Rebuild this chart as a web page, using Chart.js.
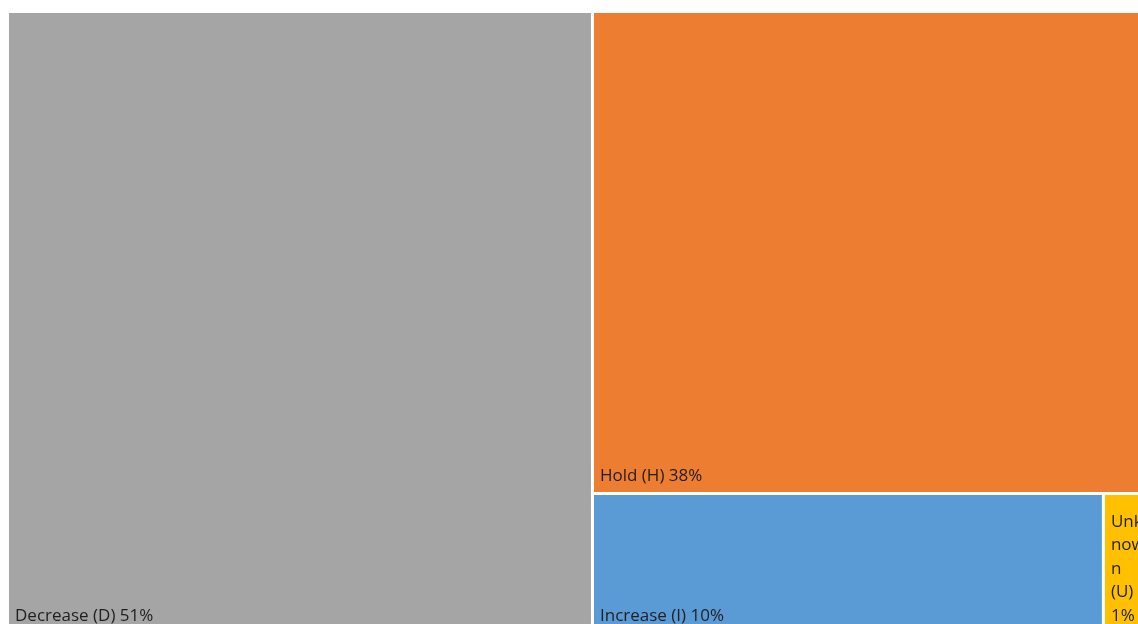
<!DOCTYPE html>
<html>
<head>
<meta charset="utf-8">
<title>Treemap</title>
<script src="https://cdn.jsdelivr.net/npm/chart.js@4.4.1/dist/chart.umd.min.js"></script>
<style>
    html, body { margin: 0; padding: 0; background: #ffffff; overflow: hidden; }
    #wrap { position: relative; width: 1160px; height: 640px; }
</style>
</head>
<body>
<div id="wrap"><canvas id="chart"></canvas></div>
<script>
const categories = ['Decrease (D)', 'Hold (H)', 'Increase (I)', 'Unknown (U)'];
const shares = [51, 38, 10, 1];
const tileColors = ['#A5A5A5', '#ED7D31', '#5B9BD5', '#FFC000'];

// squarified layout in a box measured in pixels (y grows downward)
const squarify = (values, box) => {
    const total = values.reduce((a, b) => a + b, 0);
    const k = (box.w * box.h) / total;
    const out = new Array(values.length);
    let rect = { ...box };
    let row = [];

    const worst = (items, side) => {
        const s = items.reduce((a, r) => a + r.area, 0);
        const max = Math.max(...items.map((r) => r.area));
        const min = Math.min(...items.map((r) => r.area));
        return Math.max((side * side * max) / (s * s), (s * s) / (side * side * min));
    };

    const placeRow = (items) => {
        const s = items.reduce((a, r) => a + r.area, 0);
        if (rect.w >= rect.h) {
            const w = s / rect.h;
            let y = rect.y;
            items.forEach((r) => {
                const h = r.area / w;
                out[r.i] = { x: rect.x, y, w, h };
                y += h;
            });
            rect = { x: rect.x + w, y: rect.y, w: rect.w - w, h: rect.h };
        } else {
            const h = s / rect.w;
            let x = rect.x;
            items.forEach((r) => {
                const w = r.area / h;
                out[r.i] = { x, y: rect.y, w, h };
                x += w;
            });
            rect = { x: rect.x, y: rect.y + h, w: rect.w, h: rect.h - h };
        }
    };

    values.map((v, i) => ({ i, area: v * k })).forEach((item) => {
        const side = Math.min(rect.w, rect.h);
        if (row.length && worst([...row, item], side) > worst(row, side)) {
            placeRow(row);
            row = [];
        }
        row.push(item);
    });
    if (row.length) {
        placeRow(row);
    }
    return out;
};

// word wrap; a word too long for the tile is broken by character
// and keeps its last piece on a line of its own
const wrapText = (ctx, text, maxWidth) => {
    const lines = [];
    let line = '';
    const push = (word) => {
        const next = line ? `${line} ${word}` : word;
        if (ctx.measureText(next).width <= maxWidth) {
            line = next;
            return;
        }
        if (line) {
            lines.push(line);
            line = '';
        }
        if (ctx.measureText(word).width <= maxWidth) {
            line = word;
            return;
        }
        let part = '';
        for (const ch of word) {
            if (part && ctx.measureText(part + ch).width > maxWidth) {
                lines.push(part);
                part = ch;
            } else {
                part += ch;
            }
        }
        lines.push(part);
    };
    text.split(' ').forEach(push);
    if (line) {
        lines.push(line);
    }
    return lines;
};

const noSkip = { top: false, bottom: false, left: false, right: false };

class TreemapController extends Chart.DatasetController {
    static id = 'treemap';
    static defaults = {
        dataElementType: 'bar',
        datasetElementType: false,
    };
    static overrides = {
        scales: {
            x: { type: 'linear' },
            y: { type: 'linear' },
        },
    };

    update(mode) {
        const meta = this._cachedMeta;
        this.updateElements(meta.data, 0, meta.data.length, mode);
    }

    updateElements(rects, start, count, mode) {
        const { xScale, yScale } = this._cachedMeta;
        const area = this.chart.chartArea;
        if (!area || !xScale || !yScale) {
            return;
        }
        const kx = area.width / (xScale.max - xScale.min);
        const ky = area.height / (yScale.max - yScale.min);
        const dataset = this.getDataset();
        const gap = dataset.spacing || 0;
        const tiles = squarify(dataset.data, {
            x: 0,
            y: 0,
            w: (xScale.max - xScale.min) * kx,
            h: (yScale.max - yScale.min) * ky,
        });

        for (let i = start; i < start + count; i++) {
            const t = tiles[i];
            // back into axis units, y axis points up
            const left = xScale.getPixelForValue(xScale.min + t.x / kx) + gap;
            const right = xScale.getPixelForValue(xScale.min + (t.x + t.w) / kx) - gap;
            const top = yScale.getPixelForValue(yScale.max - t.y / ky) + gap;
            const bottom = yScale.getPixelForValue(yScale.max - (t.y + t.h) / ky) - gap;

            this.updateElement(rects[i], i, {
                x: (left + right) / 2,
                y: top,
                base: bottom,
                width: right - left,
                horizontal: false,
                borderSkipped: noSkip,
                inflateAmount: 0,
                options: this.resolveDataElementOptions(i, mode),
            }, mode);
        }
    }

    getLabelAndValue(index) {
        return {
            label: this.chart.data.labels[index],
            value: `${this.getDataset().data[index]}%`,
        };
    }

    draw() {
        super.draw();
        const { ctx } = this.chart;
        const dataset = this.getDataset();
        const labels = this.chart.data.labels;
        const pad = 6;
        const lineHeight = 23.5;

        ctx.save();
        ctx.font = '17px "Open Sans", sans-serif';
        ctx.fillStyle = '#1f1f1f';
        ctx.textAlign = 'left';
        ctx.textBaseline = 'alphabetic';

        this._cachedMeta.data.forEach((rect, i) => {
            const { x, y, base, width } = rect.getProps(['x', 'y', 'base', 'width']);
            if (width === undefined) {
                return;
            }
            const left = x - width / 2;
            const top = Math.min(y, base);
            const bottom = Math.max(y, base);
            const lines = wrapText(ctx, `${labels[i]} ${dataset.data[i]}%`, width - pad * 2);

            ctx.save();
            ctx.beginPath();
            ctx.rect(left, top, width, bottom - top);
            ctx.clip();
            lines.forEach((line, j) => {
                const baseline = bottom - 11 - (lines.length - 1 - j) * lineHeight;
                ctx.fillText(line, left + pad, baseline);
            });
            ctx.restore();
        });
        ctx.restore();
    }
}

Chart.register(TreemapController);

new Chart(document.getElementById('chart'), {
    type: 'treemap',
    data: {
        labels: categories,
        datasets: [{
            label: 'Share',
            data: shares,
            backgroundColor: tileColors,
            borderWidth: 0,
            spacing: 1.5,
        }],
    },
    options: {
        responsive: true,
        maintainAspectRatio: false,
        animation: false,
        layout: {
            padding: { left: 7.5, right: 5.5, top: 11.5, bottom: 7 },
        },
        scales: {
            x: { type: 'linear', min: 0, max: 100, display: false },
            y: { type: 'linear', min: 0, max: 100, display: false },
        },
        plugins: {
            legend: { display: false },
            tooltip: {
                callbacks: {
                    title: (items) => items[0].label,
                    label: (item) => item.formattedValue,
                },
            },
        },
    },
});
</script>
</body>
</html>
